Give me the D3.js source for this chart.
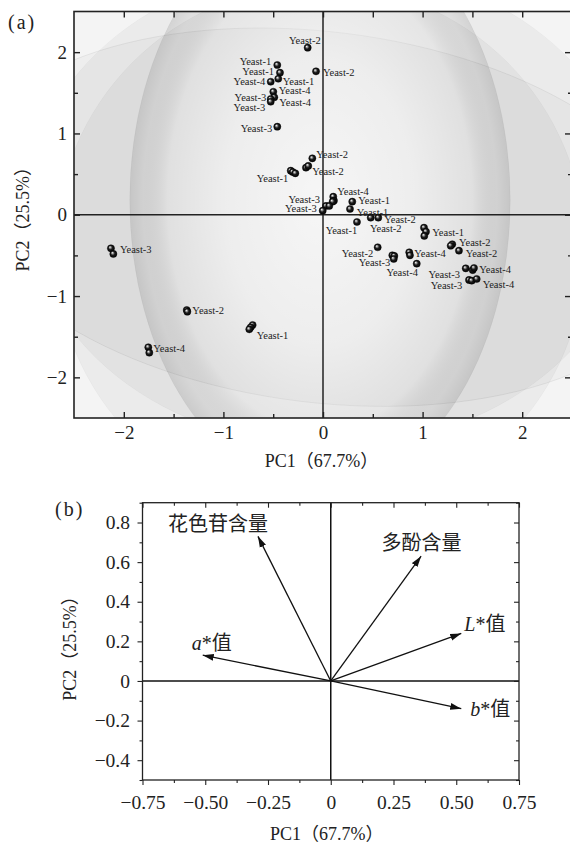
<!DOCTYPE html>
<html>
<head>
<meta charset="utf-8">
<script src="https://cdn.jsdelivr.net/npm/d3@7"></script>
<style>
  html, body { margin: 0; padding: 0; background: #fff; }
  svg { display: block; }
  text { font-family: "Liberation Serif", "Noto Sans CJK SC", serif; fill: #222; }
</style>
</head>
<body>
<svg id="chart" width="570" height="846"></svg>
<script>
// ---------- (a) PCA score plot ----------
const sampleNames = [
  "Yeast-2","Yeast-1","Yeast-1","Yeast-2","Yeast-4","Yeast-1","Yeast-4","Yeast-4","Yeast-3","Yeast-3","Yeast-3",
  "Yeast-2","Yeast-2","Yeast-2","Yeast-1","Yeast-1","Yeast-1","Yeast-4","Yeast-4","Yeast-4","Yeast-3","Yeast-3",
  "Yeast-3","Yeast-1","Yeast-1","Yeast-1","Yeast-2","Yeast-2","Yeast-1","Yeast-1","Yeast-1","Yeast-2","Yeast-2",
  "Yeast-2","Yeast-2","Yeast-3","Yeast-3","Yeast-3","Yeast-4","Yeast-4","Yeast-4","Yeast-3","Yeast-4","Yeast-4",
  "Yeast-3","Yeast-4","Yeast-4",
  "Yeast-3","Yeast-3","Yeast-2","Yeast-2","Yeast-1","Yeast-1","Yeast-1","Yeast-4","Yeast-4"
];
const scorePC1 = [
  -0.154,-0.459,-0.432,-0.070,-0.525,-0.449,-0.499,-0.489,-0.525,-0.525,-0.459,
  -0.107,-0.171,-0.148,-0.324,-0.304,-0.278,0.103,0.110,0.097,0.030,0.063,
  -0.003,0.294,0.271,0.341,0.479,0.555,1.014,1.034,1.017,1.298,1.282,
  1.365,0.549,0.696,0.716,0.710,0.866,0.873,0.941,1.433,1.503,1.516,
  1.466,1.493,1.543,
  -2.129,-2.105,-1.368,-1.362,-0.706,-0.726,-0.740,-1.754,-1.744
];
const scorePC2 = [
  2.055,1.842,1.747,1.764,1.636,1.673,1.513,1.445,1.424,1.390,1.083,
  0.694,0.579,0.600,0.542,0.526,0.510,0.222,0.173,0.161,0.108,0.108,
  0.050,0.161,0.071,-0.089,-0.036,-0.036,-0.159,-0.208,-0.261,-0.363,-0.381,
  -0.442,-0.400,-0.499,-0.507,-0.544,-0.462,-0.499,-0.602,-0.659,-0.680,-0.655,
  -0.802,-0.811,-0.790,
  -0.413,-0.482,-1.172,-1.192,-1.356,-1.384,-1.409,-1.630,-1.697
];
// which samples carry a text label, with anchor and pixel offset from the dot
const sampleLabelLayout = [
  [0,"end",13,-4],[1,"end",-6,0],[2,"end",-6,2],[3,"start",7,4.5],[4,"end",-5.5,3.3],
  [5,"start",4.5,5.8],[6,"start",5.5,2.3],[7,"start",5,8.7],[8,"end",-4.5,2],[9,"end",-5.5,9.3],
  [10,"end",-5,5.3],
  [11,"start",4,0],[13,"start",4,9],[14,"end",-2.4,11.8],[17,"start",4,-1.7],[20,"end",-6,-3],
  [22,"end",-6,1.8],[23,"start",6,2.3],[24,"start",6.7,7],[25,"end",0.3,12],[26,"start",-0.7,14.8],
  [27,"start",6,5.8],[29,"start",6.3,4.3],[31,"start",6.7,1.7],[33,"start",6.7,6.3],[34,"end",-4.4,9.7],
  [35,"end",-2,10.7],[38,"start",5,4.7],[40,"end",1.3,12.3],[41,"end",-5.7,9.2],[43,"start",5.3,5],
  [44,"end",-6.7,9],[46,"start",6,9],
  [47,"start",9,4.7],[49,"start",5.6,3.5],[53,"start",7.4,9.2],[54,"start",5,4.7]
];
const scoreTicks = [-2, -1, 0, 1, 2];
const scoreTickLabels = ["\u22122", "\u22121", "0", "1", "2"];
const scoreMinorTicks = [-1.5, -0.5, 0.5, 1.5];
// soft shaded backdrop regions, in PC units
const shadeRegions = [
  { cx: 0.07, cy: 0.11, rx: 3.03, ry: 2.96, rot: 0, fill: "rgba(0,0,0,0.035)" },
  { cx: -0.03, cy: -0.43, rx: 2.66, ry: 3.26, rot: 0, fill: "rgba(0,0,0,0.035)" },
  { cx: -0.01, cy: -0.03, rx: 3.63, ry: 2.28, rot: 7, fill: "rgba(0,0,0,0.025)", stroke: "rgba(0,0,0,0.08)" },
  { cx: -0.03, cy: 0.18, rx: 1.91, ry: 3.54, rot: 0, fill: "url(#sphereShade)" }
];

// ---------- (b) loading plot ----------
const variableItalic = ["", "", "L", "a", "b"];
const variableText = ["花色苷含量", "多酚含量", "*值", "*值", "*值"];
const loadPC1 = [-0.29, 0.36, 0.52, -0.51, 0.52];
const loadPC2 = [0.73, 0.63, 0.24, 0.13, -0.14];
const variableLabelLayout = [["middle",-40,-5],["middle",0.5,-6],["start",3,-2],["start",-11,-5],["start",9,7]];
const loadXTicks = [-0.75, -0.5, -0.25, 0, 0.25, 0.5, 0.75];
const loadXTickLabels = ["\u22120.75", "\u22120.50", "\u22120.25", "0", "0.25", "0.50", "0.75"];
const loadXMinor = [-0.625, -0.375, -0.125, 0.125, 0.375, 0.625];
const loadYTicks = [-0.4, -0.2, 0, 0.2, 0.4, 0.6, 0.8];
const loadYTickLabels = ["\u22120.4", "\u22120.2", "0", "0.2", "0.4", "0.6", "0.8"];
const loadYMinor = [-0.5, -0.3, -0.1, 0.1, 0.3, 0.5, 0.7, 0.9];

const axisTitleX = "PC1（67.7%）";
const axisTitleY = "PC2（25.5%）";

const svg = d3.select("#chart");
const defs = svg.append("defs");

// sphere shading for the backdrop: bright middle, darker rim
const sg = defs.append("radialGradient").attr("id", "sphereShade");
[[0, "rgba(255,255,255,0.75)"], [0.5, "rgba(255,255,255,0.5)"], [0.8, "rgba(255,255,255,0.12)"],
 [0.93, "rgba(0,0,0,0.05)"], [1, "rgba(0,0,0,0.1)"]]
  .forEach(([o, c]) => sg.append("stop").attr("offset", o).attr("stop-color", c));

// glossy dot
const dg = defs.append("radialGradient").attr("id", "dotShade")
  .attr("cx", "50%").attr("cy", "50%").attr("r", "55%").attr("fx", "35%").attr("fy", "32%");
[[0, "#ffffff"], [0.22, "#9a9a9a"], [0.5, "#1c1c1c"], [1, "#000"]]
  .forEach(([o, c]) => dg.append("stop").attr("offset", o).attr("stop-color", c));

// arrowhead
defs.append("marker").attr("id", "arrowHead")
  .attr("markerUnits", "userSpaceOnUse").attr("markerWidth", 12).attr("markerHeight", 8)
  .attr("refX", 11).attr("refY", 4).attr("orient", "auto")
  .append("path").attr("d", "M0,0.6 L11,4 L0,7.4 Z").attr("fill", "#111");

// ===== panel (a) =====
const xa = d3.scaleLinear().domain([-2.5, 2.5]).range([74, 572]);
const ya = d3.scaleLinear().domain([-2.5, 2.5]).range([418, 11.5]);
const ga = svg.append("g");

defs.append("clipPath").attr("id", "clipA").append("rect")
  .attr("x", xa(-2.5)).attr("y", ya(2.5))
  .attr("width", xa(2.5) - xa(-2.5)).attr("height", ya(-2.5) - ya(2.5));

const back = ga.append("g").attr("clip-path", "url(#clipA)");
back.append("rect")
  .attr("x", xa(-2.5)).attr("y", ya(2.5))
  .attr("width", xa(2.5) - xa(-2.5)).attr("height", ya(-2.5) - ya(2.5))
  .attr("fill", "#f4f4f4");
const kx = xa(1) - xa(0), ky = ya(0) - ya(1);
back.selectAll("ellipse.shade").data(shadeRegions).join("ellipse")
  .attr("class", "shade")
  .attr("cx", 0).attr("cy", 0)
  .attr("rx", d => d.rx * kx).attr("ry", d => d.ry * ky)
  .attr("transform", d => `translate(${xa(d.cx)},${ya(d.cy)}) rotate(${d.rot})`)
  .attr("fill", d => d.fill)
  .attr("stroke", d => d.stroke || "rgba(0,0,0,0.04)")
  .attr("stroke-width", 0.8);

// zero lines
ga.append("line").attr("x1", xa(-2.5)).attr("x2", xa(2.5)).attr("y1", ya(0)).attr("y2", ya(0))
  .attr("stroke", "#222").attr("stroke-width", 1.5);
ga.append("line").attr("x1", xa(0)).attr("x2", xa(0)).attr("y1", ya(2.5)).attr("y2", ya(-2.5))
  .attr("stroke", "#222").attr("stroke-width", 1.5);

function styleAxis(g, size) {
  g.select(".domain").remove();
  g.selectAll(".tick line").attr("stroke", "#222").attr("stroke-width", 1.4);
  g.selectAll(".tick text").attr("font-size", size).attr("fill", "#222");
}

// ticks on all four sides, pointing inward
const fmtA = (d) => scoreTickLabels[scoreTicks.indexOf(d)];
ga.append("g").attr("transform", `translate(0,${ya(-2.5)})`)
  .call(d3.axisBottom(xa).tickValues(scoreTicks).tickSize(-6).tickPadding(7.5).tickFormat(fmtA))
  .call(g => styleAxis(g, 19));
ga.append("g").attr("transform", `translate(0,${ya(-2.5)})`)
  .call(d3.axisBottom(xa).tickValues(scoreMinorTicks).tickSize(-4).tickFormat(""))
  .call(g => styleAxis(g, 19));
ga.append("g").attr("transform", `translate(0,${ya(2.5)})`)
  .call(d3.axisTop(xa).tickValues(scoreTicks.concat(scoreMinorTicks)).tickSize(-6).tickFormat(""))
  .call(g => styleAxis(g, 19));
ga.append("g").attr("transform", `translate(${xa(-2.5)},0)`)
  .call(d3.axisLeft(ya).tickValues(scoreTicks).tickSize(-6).tickPadding(7).tickFormat(fmtA))
  .call(g => styleAxis(g, 19));
ga.append("g").attr("transform", `translate(${xa(-2.5)},0)`)
  .call(d3.axisLeft(ya).tickValues(scoreMinorTicks).tickSize(-4).tickFormat(""))
  .call(g => styleAxis(g, 19));
ga.append("g").attr("transform", `translate(${xa(2.5)},0)`)
  .call(d3.axisRight(ya).tickValues(scoreTicks).tickSize(-7).tickFormat(""))
  .call(g => styleAxis(g, 19));
ga.append("g").attr("transform", `translate(${xa(2.5)},0)`)
  .call(d3.axisRight(ya).tickValues(scoreMinorTicks).tickSize(-4).tickFormat(""))
  .call(g => styleAxis(g, 19));

// frame
ga.append("rect")
  .attr("x", xa(-2.5)).attr("y", ya(2.5))
  .attr("width", xa(2.5) - xa(-2.5)).attr("height", ya(-2.5) - ya(2.5))
  .attr("fill", "none").attr("stroke", "#222").attr("stroke-width", 1.6);

// sample dots
const samples = sampleNames.map((n, i) => ({ name: n, pc1: scorePC1[i], pc2: scorePC2[i] }));
ga.append("g").selectAll("circle").data(samples).join("circle")
  .attr("cx", d => xa(d.pc1)).attr("cy", d => ya(d.pc2)).attr("r", 3.6)
  .attr("fill", "url(#dotShade)").attr("stroke", "#000").attr("stroke-width", 0.4);

ga.append("g").selectAll("text").data(sampleLabelLayout).join("text")
  .attr("x", d => xa(samples[d[0]].pc1) + d[2])
  .attr("y", d => ya(samples[d[0]].pc2) + d[3])
  .attr("text-anchor", d => d[1])
  .attr("font-size", 10.5).attr("fill", "#2a2a2a")
  .text(d => samples[d[0]].name);

// titles
ga.append("text").attr("x", 8).attr("y", 29).attr("font-size", 20)
  .attr("letter-spacing", 2).text("(a)");
ga.append("text").attr("x", (xa(-2.5) + xa(2.5)) / 2 - 1.5).attr("y", 467)
  .attr("text-anchor", "middle").attr("font-size", 18).text(axisTitleX);
ga.append("text").attr("transform", `translate(29,${(ya(2.5) + ya(-2.5)) / 2}) rotate(-90)`)
  .attr("text-anchor", "middle").attr("font-size", 18).text(axisTitleY);

// ===== panel (b) =====
const xb = d3.scaleLinear().domain([-0.75, 0.75]).range([142.5, 519]);
const yb = d3.scaleLinear().domain([-0.5, 0.9]).range([780, 502.7]);
const gb = svg.append("g");

gb.append("line").attr("x1", xb(-0.75)).attr("x2", xb(0.75)).attr("y1", yb(0)).attr("y2", yb(0))
  .attr("stroke", "#111").attr("stroke-width", 1.5);
gb.append("line").attr("x1", xb(0)).attr("x2", xb(0)).attr("y1", yb(0.9)).attr("y2", yb(-0.5))
  .attr("stroke", "#111").attr("stroke-width", 1.5);

const fmtBX = (d) => loadXTickLabels[loadXTicks.indexOf(d)];
const fmtBY = (d) => loadYTickLabels[loadYTicks.indexOf(d)];
gb.append("g").attr("transform", `translate(0,${yb(-0.5)})`)
  .call(d3.axisBottom(xb).tickValues(loadXTicks).tickSize(5).tickPadding(10).tickFormat(fmtBX))
  .call(g => styleAxis(g, 19.5));
gb.append("g").attr("transform", `translate(0,${yb(-0.5)})`)
  .call(d3.axisBottom(xb).tickValues(loadXMinor).tickSize(3).tickFormat(""))
  .call(g => styleAxis(g, 19.5));
gb.append("g").attr("transform", `translate(0,${yb(0.9)})`)
  .call(d3.axisTop(xb).tickValues(loadXTicks).tickSize(-5).tickFormat(""))
  .call(g => styleAxis(g, 19.5));
gb.append("g").attr("transform", `translate(0,${yb(0.9)})`)
  .call(d3.axisTop(xb).tickValues(loadXMinor).tickSize(-3).tickFormat(""))
  .call(g => styleAxis(g, 19.5));
gb.append("g").attr("transform", `translate(${xb(-0.75)},0)`)
  .call(d3.axisLeft(yb).tickValues(loadYTicks).tickSize(5).tickPadding(7.5).tickFormat(fmtBY))
  .call(g => styleAxis(g, 19.5));
gb.append("g").attr("transform", `translate(${xb(-0.75)},0)`)
  .call(d3.axisLeft(yb).tickValues(loadYMinor).tickSize(3).tickFormat(""))
  .call(g => styleAxis(g, 19.5));
gb.append("g").attr("transform", `translate(${xb(0.75)},0)`)
  .call(d3.axisRight(yb).tickValues(loadYTicks).tickSize(-5).tickFormat(""))
  .call(g => styleAxis(g, 19.5));
gb.append("g").attr("transform", `translate(${xb(0.75)},0)`)
  .call(d3.axisRight(yb).tickValues(loadYMinor).tickSize(-3).tickFormat(""))
  .call(g => styleAxis(g, 19.5));
gb.selectAll(".tick line").attr("stroke-width", 1.1);

gb.append("rect")
  .attr("x", xb(-0.75)).attr("y", yb(0.9))
  .attr("width", xb(0.75) - xb(-0.75)).attr("height", yb(-0.5) - yb(0.9))
  .attr("fill", "none").attr("stroke", "#222").attr("stroke-width", 1.3);

// loading arrows
const loadings = variableText.map((t, i) => ({ it: variableItalic[i], t, pc1: loadPC1[i], pc2: loadPC2[i], lay: variableLabelLayout[i] }));
gb.append("g").selectAll("line").data(loadings).join("line")
  .attr("x1", xb(0)).attr("y1", yb(0))
  .attr("x2", d => xb(d.pc1)).attr("y2", d => yb(d.pc2))
  .attr("stroke", "#111").attr("stroke-width", 1.3)
  .attr("marker-end", "url(#arrowHead)");

const vl = gb.append("g").selectAll("text").data(loadings).join("text")
  .attr("x", d => xb(d.pc1) + d.lay[1])
  .attr("y", d => yb(d.pc2) + d.lay[2])
  .attr("text-anchor", d => d.lay[0])
  .attr("font-size", 20).attr("fill", "#222");
vl.each(function (d) {
  const t = d3.select(this);
  if (d.it) t.append("tspan").attr("font-style", "italic").text(d.it);
  t.append("tspan").attr("font-family", d.it ? "Liberation Serif, Noto Sans CJK SC" : "Noto Sans CJK SC").text(d.t);
});

gb.append("text").attr("x", 55).attr("y", 516).attr("font-size", 20)
  .attr("letter-spacing", 2).text("(b)");
gb.append("text").attr("x", (xb(-0.75) + xb(0.75)) / 2 - 4).attr("y", 840)
  .attr("text-anchor", "middle").attr("font-size", 18).text(axisTitleX);
gb.append("text").attr("transform", `translate(76,644) rotate(-90)`)
  .attr("text-anchor", "middle").attr("font-size", 18).text(axisTitleY);
</script>
</body>
</html>
